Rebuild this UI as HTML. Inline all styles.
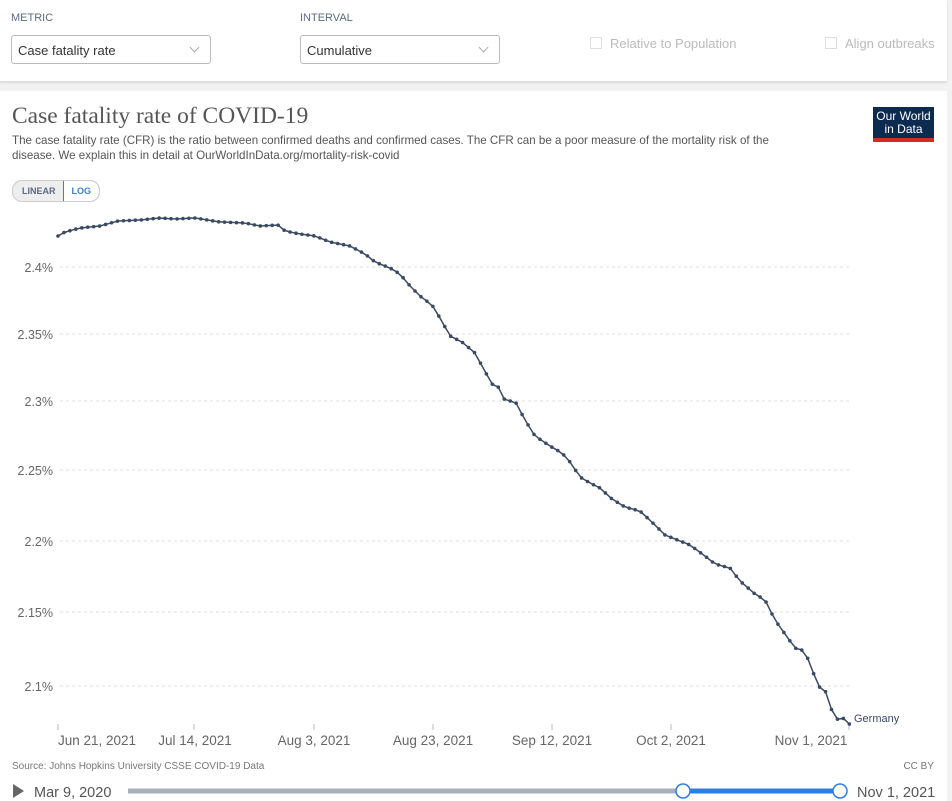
<!DOCTYPE html>
<html><head><meta charset="utf-8"><style>
body{margin:0;width:952px;height:801px;background:#f2f2f2;font-family:"Liberation Sans",sans-serif;position:relative;overflow:hidden}
.top{position:absolute;left:0;top:0;width:947px;height:81px;background:#fff;border-bottom:1px solid #ddd;box-shadow:0 1px 2px rgba(0,0,0,.1)}
.lbl{position:absolute;top:12px;font-size:11px;color:#5b6b85}
.sel{position:absolute;top:35px;width:200px;height:29px;border:1px solid #bbb;border-radius:3px;font-size:13px;color:#333;line-height:29px;padding-left:6px;box-sizing:border-box}
.sel:after{content:"";position:absolute;right:12px;top:8px;width:6px;height:6px;border-right:1px solid #aaa;border-bottom:1px solid #aaa;transform:rotate(45deg)}
.cb{position:absolute;top:36px;font-size:13px;color:#bbb}
.cb i{display:inline-block;width:10px;height:10px;border:1px solid #ddd;margin-right:8px;vertical-align:-1px}
.card{position:absolute;left:0;top:91px;width:947px;height:710px;background:#fff}
</style></head><body>
<div class="top">
<div class="lbl" style="left:11px">METRIC</div><div class="lbl" style="left:300px">INTERVAL</div>
<div class="sel" style="left:11px">Case fatality rate</div>
<div class="sel" style="left:300px;width:200px">Cumulative</div>
<div class="cb" style="left:590px"><i></i>Relative to Population</div>
<div class="cb" style="left:825px"><i></i>Align outbreaks</div>
</div>
<div class="card"></div>
<div style="position:absolute;left:12px;top:103px;font-family:'Liberation Serif',serif;font-size:23.5px;color:#555">Case fatality rate of COVID-19</div>
<div style="position:absolute;left:12px;top:133px;width:785px;font-size:11.6px;line-height:15px;color:#555">The case fatality rate (CFR) is the ratio between confirmed deaths and confirmed cases. The CFR can be a poor measure of the mortality risk of the disease. We explain this in detail at OurWorldInData.org/mortality-risk-covid</div>
<div style="position:absolute;left:873px;top:107px;width:61px;height:35px;background:#0d2a50;border-bottom:4px solid #d42b21;color:#fff;font-size:12px;line-height:13px;text-align:center;padding-top:3px;box-sizing:border-box">Our World<br>in Data</div>
<div style="position:absolute;left:12px;top:180px;height:20px;border:1px solid #ccc;border-radius:10px;background:#eee;font-size:9px;font-weight:bold;color:#5b6b85;line-height:20px;overflow:hidden;display:flex"><span style="padding:0 8px 0 9px">LINEAR</span><span style="background:#fff;border:1px solid #3a7ddb;border-radius:0 10px 10px 0;padding:0 8px;color:#3a7ddb;margin:-1px">LOG</span></div>
<svg id="c" width="952" height="801" style="position:absolute;left:0;top:0" font-family="Liberation Sans, sans-serif"></svg>
<div style="position:absolute;left:12px;top:761px;font-size:10px;color:#777">Source: Johns Hopkins University CSSE COVID-19 Data</div>
<div style="position:absolute;right:18px;top:761px;font-size:10px;color:#777">CC BY</div>
<script>
const s=document.getElementById('c');let h='';
const g=[[267,'2.4%'],[334,'2.35%'],[401,'2.3%'],[470,'2.25%'],[541,'2.2%'],[612,'2.15%'],[686,'2.1%']];
g.forEach(([y,t])=>{h+=`<line x1="60" x2="850" y1="${y}" y2="${y}" stroke="#ddd" stroke-dasharray="3,3"/><text x="53" y="${y+5}" text-anchor="end" font-size="12.5" fill="#666">${t}</text>`});
const tk=[[58,'Jun 21, 2021',97],[194,'Jul 14, 2021',195],[314,'Aug 3, 2021',314],[433,'Aug 23, 2021',433],[552,'Sep 12, 2021',552],[671,'Oct 2, 2021',671],[849,'Nov 1, 2021',811]];
tk.forEach(([x,t,c])=>{h+=`<line x1="${x}" x2="${x}" y1="724" y2="730" stroke="#bbb"/><text x="${c}" y="745" text-anchor="middle" font-size="13.5" fill="#666">${t}</text>`});
const P=[[58,236],[65,232],[80,228],[100,226],[118,221],[140,220],[160,218],[175,219],[195,218],[220,222],[245,223],[260,226],[278,225],[285,231],[300,234],[315,236],[330,242],[350,246],[365,254],[375,262],[390,268],[400,274],[410,286],[420,296],[432,305],[440,318],[450,336],[462,342],[475,353],[482,366],[492,384],[500,388],[505,401],[515,401],[525,420],[535,436],[550,446],[562,453],[570,462],[580,477],[590,483],[600,488],[612,499],[625,507],[640,511],[655,525],[665,535],[680,541],[690,545],[705,556],[715,564],[730,568],[740,581],[755,594],[765,600],[775,620],[785,634],[795,648],[805,651],[812,670],[820,688],[825,690],[832,711],[838,720],[845,718],[849,724]];
function f(x){for(let i=1;i<P.length;i++)if(x<=P[i][0]){const a=P[i-1],b=P[i];return a[1]+(b[1]-a[1])*(x-a[0])/(b[0]-a[0]);}return 724}
let pts=[];for(let x=58;x<=849.5;x+=5.95)pts.push([x,f(x)]);
h+=`<polyline fill="none" stroke="#3b4a63" stroke-width="1.5" points="${pts.map(p=>p.join(',')).join(' ')}"/>`;
pts.forEach(p=>h+=`<circle cx="${p[0]}" cy="${p[1]}" r="1.8" fill="#3b4a63"/>`);
h+=`<text x="854" y="722" font-size="11" fill="#3b4a63">Germany</text>`;
h+=`<polygon points="13,784 24,791 13,798" fill="#666"/><text x="34" y="797" font-size="14.5" fill="#555">Mar 9, 2020</text>`;
h+=`<line x1="128" x2="683" y1="791" y2="791" stroke="#aab0bb" stroke-width="5"/><line x1="683" x2="840" y1="791" y2="791" stroke="#2f7de1" stroke-width="5"/>`;
h+=`<circle cx="683" cy="791" r="7" fill="#fff" stroke="#2f7de1" stroke-width="1.5"/><circle cx="840" cy="791" r="7" fill="#fff" stroke="#2f7de1" stroke-width="1.5"/>`;
h+=`<text x="857" y="797" font-size="14.5" fill="#555">Nov 1, 2021</text>`;
s.innerHTML=h;
</script>
</body></html>
